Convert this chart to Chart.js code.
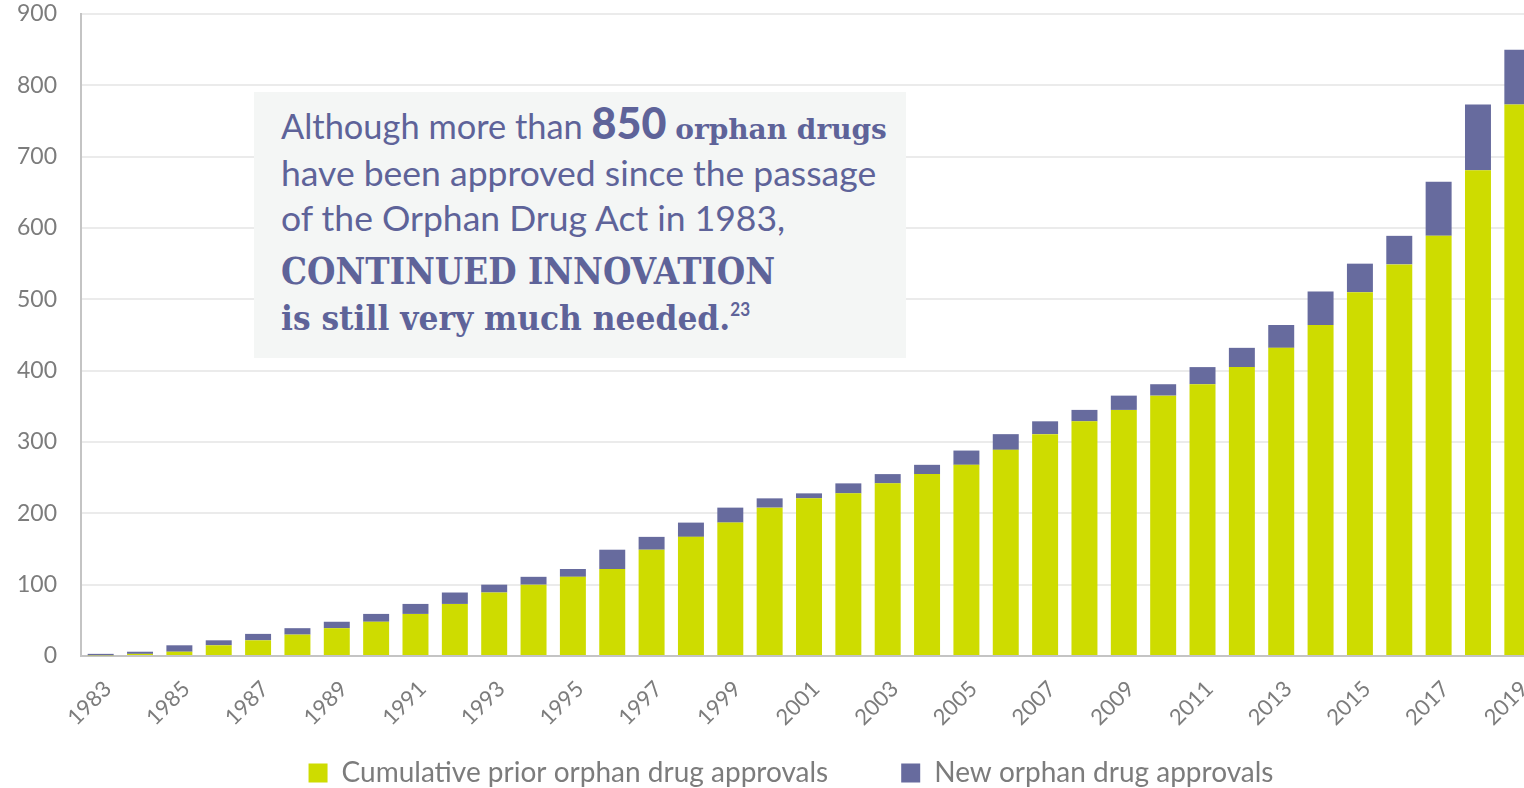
<!DOCTYPE html>
<html>
<head>
<meta charset="utf-8">
<title>Orphan drug approvals</title>
<script src="https://cdn.jsdelivr.net/npm/chart.js@4.4.1/dist/chart.umd.min.js"></script>
<style>
  html, body { margin: 0; padding: 0; background: #fff; overflow: hidden; }
  #page { position: relative; width: 1524px; height: 788px; overflow: hidden; }
  #plot { position: absolute; left: 0; top: 0; width: 1548px; height: 788px; }
  #note {
    position: absolute; left: 254px; top: 92px; width: 652px; height: 266px;
    background: #f4f6f5; color: #5e6399;
  }
  #note .ln {
    position: absolute; left: 27px; white-space: nowrap; line-height: 1;
    font-family: Lato, sans-serif; font-size: 35.5px;
  }
  #note .big { font-weight: 900; font-size: 43px; }
  #note .slab {
    display: inline-block; font-family: "DejaVu Serif", serif; font-weight: bold;
    transform-origin: 0 100%;
  }
  #note sup { font-family: Lato, sans-serif; font-size: 18px; font-weight: bold; vertical-align: 14px; }
</style>
</head>
<body>
<div id="page">
  <div id="plot"><canvas id="approvals"></canvas></div>
  <div id="note">
    <div class="ln" style="top:9px;font-size:34.4px">Although more than <span class="big">850</span> <span class="slab" style="font-size:28px">orphan drugs</span></div>
    <div class="ln" style="top:63px">have been approved since the passage</div>
    <div class="ln" style="top:108px">of the Orphan Drug Act in 1983,</div>
    <div class="ln" style="top:160px"><span class="slab" style="font-size:38px;transform:scaleX(0.86)">CONTINUED INNOVATION</span></div>
    <div class="ln" style="top:207px"><span class="slab" style="font-size:33px;transform:scaleX(0.95)">is still very much needed.<sup>23</sup></span></div>
  </div>
</div>
<script>
const years = ['1983', '1984', '1985', '1986', '1987', '1988', '1989', '1990', '1991', '1992',
    '1993', '1994', '1995', '1996', '1997', '1998', '1999', '2000', '2001', '2002',
    '2003', '2004', '2005', '2006', '2007', '2008', '2009', '2010', '2011', '2012',
    '2013', '2014', '2015', '2016', '2017', '2018', '2019'];

const priorApprovals = [1, 3, 6, 15, 22, 30, 39, 48, 59, 73,
    89, 100, 111, 122, 149, 167, 187, 208, 221, 228,
    242, 255, 268, 289, 311, 329, 345, 365, 381, 405,
    432, 464, 510, 549, 589, 681, 773];

const newApprovals = [2, 3, 9, 7, 9, 9, 9, 11, 14, 16,
    11, 11, 11, 27, 18, 20, 21, 13, 7, 14,
    13, 13, 20, 22, 18, 16, 20, 16, 24, 27,
    32, 47, 40, 40, 76, 92, 77];

const tickGrey = '#7c7c7c';
const legendFontSize = 28;
const legendPadding = 73;

// the canvas runs past the right edge of the page, so park the legend by hand
// (centred on the visible width, items centred on y=773) and let the slanted
// year labels hang below the short x axis box
const placeLegend = {
    id: 'placeLegend',
    afterLayout(chart) {
        const legend = chart.legend;
        const dx = 791 - (legend.left + legend.right) / 2;
        legend.left += dx;
        legend.right += dx;
        legend.top = 773 - legendFontSize / 2 - legendPadding;
        legend.bottom = chart.height;
        legend.height = legend.bottom - legend.top;
        chart.scales.x.bottom = chart.height;
    }
};

const approvalsCanvas = document.getElementById('approvals').getContext('2d');

const approvalsChart = new Chart(approvalsCanvas, {
    type: 'bar',
    data: {
        labels: years,
        datasets: [
            {
                label: 'Cumulative prior orphan drug approvals',
                data: priorApprovals,
                backgroundColor: '#cedc00',
            },
            {
                label: 'New orphan drug approvals',
                data: newApprovals,
                backgroundColor: '#676b9e',
            }
        ]
    },
    options: {
        responsive: true,
        maintainAspectRatio: false,
        animation: false,
        layout: {
            padding: { left: 17, top: 14, right: 0, bottom: 0 }
        },
        datasets: {
            bar: { barPercentage: 0.66, categoryPercentage: 1 }
        },
        scales: {
            x: {
                stacked: true,
                grid: { display: false },
                border: { color: '#c4c4c4', width: 2 },
                ticks: {
                    autoSkip: false,
                    maxRotation: 45,
                    minRotation: 45,
                    padding: 12,
                    labelOffset: 7,
                    color: tickGrey,
                    font: { family: 'Lato', size: 22 },
                    callback: (value, index) => index % 2 === 0 ? years[index] : ''
                },
                afterFit: scale => { scale.height = 46; }
            },
            y: {
                stacked: true,
                min: 0,
                max: 900,
                ticks: {
                    stepSize: 100,
                    padding: 24,
                    color: tickGrey,
                    font: { family: 'Lato', size: 23 }
                },
                grid: { color: '#ebebeb', lineWidth: 2, drawTicks: false },
                border: { color: '#c4c4c4', width: 2 },
                afterFit: scale => {
                    scale.width = 64;
                    scale.paddingTop = 0;
                    scale.paddingBottom = 0;
                }
            }
        },
        plugins: {
            legend: {
                position: 'bottom',
                maxHeight: 86,
                labels: {
                    boxWidth: 19,
                    boxHeight: 19,
                    padding: legendPadding,
                    color: tickGrey,
                    font: { family: 'Lato', size: legendFontSize }
                }
            },
            tooltip: { enabled: false }
        }
    },
    plugins: [placeLegend]
});
window.approvalsChart = approvalsChart;
</script>
</body>
</html>
